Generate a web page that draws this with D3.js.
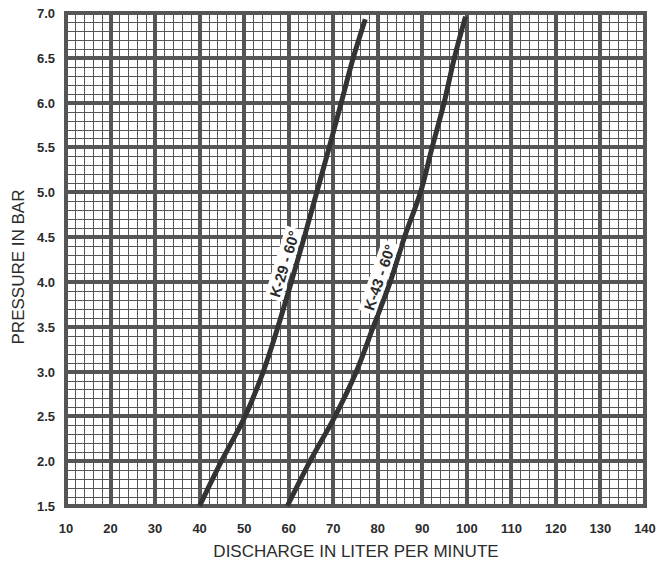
<!DOCTYPE html>
<html lang="en">
<head>
<meta charset="UTF-8">
<title>Pressure vs discharge</title>
<script src="https://d3js.org/d3.v7.min.js"></script>
<style>
  body { margin: 0; background: #fff; }
  svg { display: block; font-family: "Liberation Sans", Arial, sans-serif; }
  .tick-label { font-size: 13px; font-weight: bold; fill: #2b2b2b; }
  .axis-title { font-size: 17px; fill: #2b2b2b; }
  .curve-label { font-size: 15px; font-weight: bold; fill: #2b2b2b; }
</style>
</head>
<body>
<svg id="chart" width="659" height="564"></svg>
<script>
// tick labels
const xTicks = [10, 20, 30, 40, 50, 60, 70, 80, 90, 100, 110, 120, 130, 140];
const yTicks = [1.5, 2.0, 2.5, 3.0, 3.5, 4.0, 4.5, 5.0, 5.5, 6.0, 6.5, 7.0];

// curves (bar -> l/min)
const pressure29 = [1.5, 2.0, 2.5, 3.0, 3.5, 4.0, 4.5, 5.0, 5.5, 6.0, 6.5, 6.93];
const flow29     = [40.0, 44.9, 50.2, 54.3, 57.6, 60.6, 63.5, 66.3, 69.1, 71.8, 74.5, 77.2];
const pressure43 = [1.5, 2.0, 2.5, 3.0, 3.5, 4.0, 4.5, 5.0, 5.5, 6.0, 6.5, 6.96];
const flow43     = [59.7, 64.8, 70.4, 75.2, 79.0, 82.8, 86.0, 89.6, 92.2, 94.9, 97.2, 99.7];

const curveNames = ["K-29 - 60°", "K-43 - 60°"];
const labelPressure = [4.2, 4.05];

const width = 659, height = 564;
const margin = { top: 13, right: 14, bottom: 58, left: 66 };

const svg = d3.select("#chart");

const x = d3.scaleLinear()
  .domain([10, 140])
  .range([margin.left, width - margin.right]);

const y = d3.scaleLinear()
  .domain([1.5, 7.0])
  .range([height - margin.bottom, margin.top]);

const gridColor = "#555";
const thin = v => Math.round(v) + 0.5;

// minor grid (2 l/min and 0.1 bar)
const grid = svg.append("g").attr("shape-rendering", "crispEdges");
grid.selectAll(".vminor")
  .data(x.ticks(65))
  .enter().append("line")
  .attr("x1", d => thin(x(d))).attr("x2", d => thin(x(d)))
  .attr("y1", y(1.5)).attr("y2", y(7.0))
  .attr("stroke", gridColor).attr("stroke-width", 1);

grid.selectAll(".hminor")
  .data(y.ticks(55))
  .enter().append("line")
  .attr("y1", d => thin(y(d))).attr("y2", d => thin(y(d)))
  .attr("x1", x(10)).attr("x2", x(140))
  .attr("stroke", gridColor).attr("stroke-width", 1);

// major grid
grid.selectAll(".vmajor")
  .data(xTicks)
  .enter().append("line")
  .attr("x1", d => Math.round(x(d))).attr("x2", d => Math.round(x(d)))
  .attr("y1", y(1.5) + 2).attr("y2", y(7.0) - 2)
  .attr("stroke", gridColor).attr("stroke-width", 4);

grid.selectAll(".hmajor")
  .data(yTicks)
  .enter().append("line")
  .attr("y1", d => Math.round(y(d))).attr("y2", d => Math.round(y(d)))
  .attr("x1", x(10) - 2).attr("x2", x(140) + 2)
  .attr("stroke", gridColor).attr("stroke-width", 4);

// tick labels
svg.selectAll(".xlab")
  .data(xTicks)
  .enter().append("text")
  .attr("class", "tick-label")
  .attr("x", d => x(d))
  .attr("y", y(1.5) + 27)
  .attr("text-anchor", "middle")
  .text(d => d);

svg.selectAll(".ylab")
  .data(yTicks)
  .enter().append("text")
  .attr("class", "tick-label")
  .attr("x", x(10) - 11)
  .attr("y", d => y(d) + 5)
  .attr("text-anchor", "end")
  .text(d => d.toFixed(1));

// axis titles
svg.append("text")
  .attr("class", "axis-title")
  .attr("x", 356)
  .attr("y", 557)
  .attr("text-anchor", "middle")
  .text("DISCHARGE IN LITER PER MINUTE");

svg.append("text")
  .attr("class", "axis-title")
  .attr("transform", `translate(24, 267) rotate(-90)`)
  .attr("text-anchor", "middle")
  .text("PRESSURE IN BAR");

// curves
const line = d3.line()
  .x(d => x(d[0]))
  .y(d => y(d[1]))
  .curve(d3.curveCatmullRom);

const series = [
  d3.zip(flow29, pressure29),
  d3.zip(flow43, pressure43)
];

svg.selectAll(".curve")
  .data(series)
  .enter().append("path")
  .attr("d", line)
  .attr("fill", "none")
  .attr("stroke", "#333")
  .attr("stroke-width", 5);

// curve labels with white background
const angles = [-73, -71];
series.forEach((s, i) => {
  const p = labelPressure[i];
  const ps = s.map(d => d[1]);
  const j = d3.bisectLeft(ps, p);
  const t = (p - ps[j - 1]) / (ps[j] - ps[j - 1]);
  const q = s[j - 1][0] + t * (s[j][0] - s[j - 1][0]);

  const g = svg.append("g")
    .attr("transform", `translate(${x(q) - 12}, ${y(p)}) rotate(${angles[i]})`);
  const txt = g.append("text")
    .attr("class", "curve-label")
    .attr("text-anchor", "middle")
    .attr("dy", "0.35em")
    .text(curveNames[i]);
  const bb = txt.node().getBBox();
  g.insert("rect", "text")
    .attr("x", bb.x - 3).attr("y", bb.y - 1)
    .attr("width", bb.width + 6).attr("height", bb.height + 1)
    .attr("fill", "#fff");
});
</script>
</body>
</html>
